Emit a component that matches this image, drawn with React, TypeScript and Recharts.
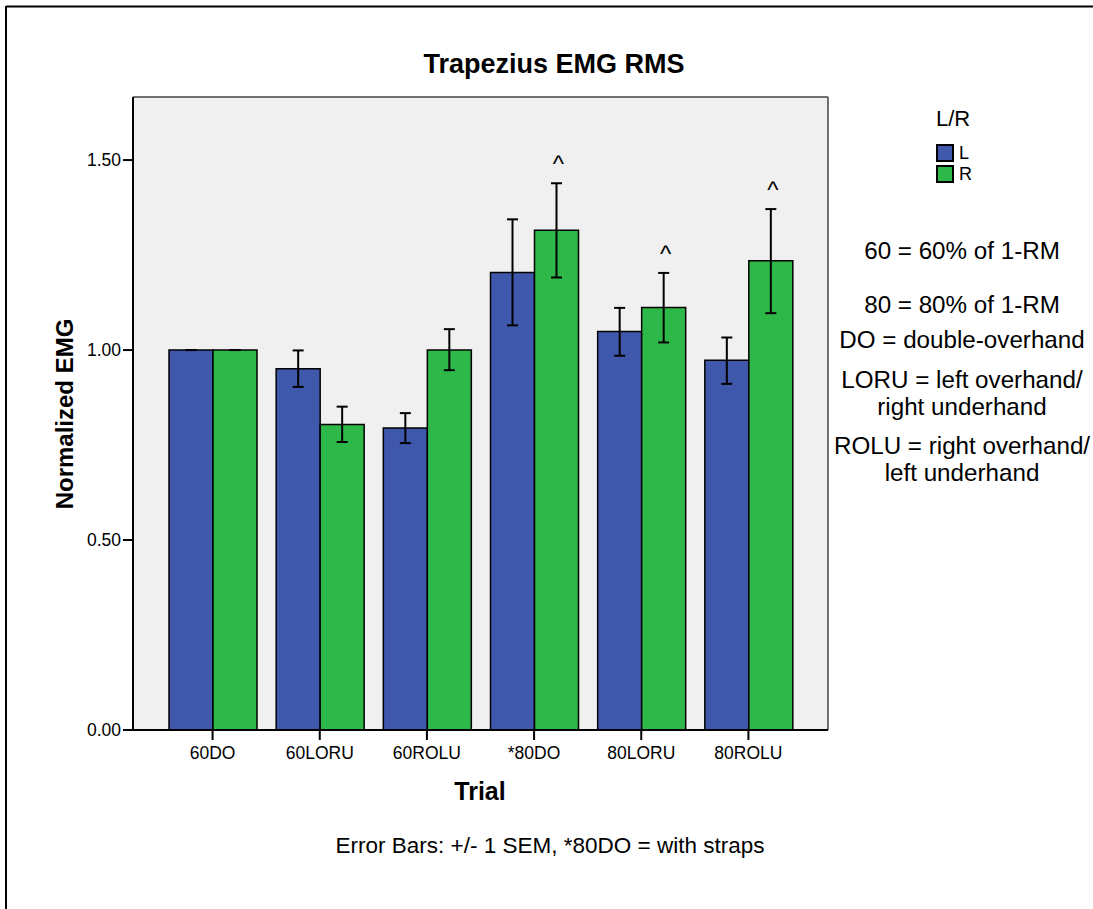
import React from 'react';
import { BarChart, Bar, XAxis, YAxis, ErrorBar, LabelList, Legend, CartesianGrid } from 'recharts';

const FONT = '"Liberation Sans", Arial, Helvetica, sans-serif';

// Trapezius EMG RMS, normalized to 60DO
const trials = ['60DO', '60LORU', '60ROLU', '*80DO', '80LORU', '80ROLU'];
const leftMean = [1.0, 0.951, 0.795, 1.204, 1.049, 0.973];
const leftLow = [1.0, 0.903, 0.755, 1.065, 0.985, 0.911];
const leftHigh = [1.0, 0.999, 0.834, 1.344, 1.111, 1.033];
const rightMean = [1.0, 0.804, 1.0, 1.315, 1.112, 1.235];
const rightLow = [1.0, 0.758, 0.947, 1.191, 1.02, 1.097];
const rightHigh = [1.0, 0.851, 1.055, 1.439, 1.203, 1.371];
const rightMarks = ['', '', '', '^', '^', '^'];
const yTicks = [0, 0.5, 1.0, 1.5];

const notes = [
  ['60 = 60% of 1-RM', 259],
  ['80 = 80% of 1-RM', 313],
  ['DO = double-overhand', 348],
  ['LORU = left overhand/', 388],
  ['right underhand', 415],
  ['ROLU = right overhand/', 454],
  ['left underhand', 481],
];

const data = trials.map((trial, i) => ({
  trial,
  L: leftMean[i],
  R: rightMean[i],
  lErr: [leftMean[i] - leftLow[i], leftHigh[i] - leftMean[i]],
  rErr: [rightMean[i] - rightLow[i], rightHigh[i] - rightMean[i]],
  mark: rightMarks[i],
}));

const BLUE = '#3F58AB';
const GREEN = '#2EB84A';

const renderCaret = (props: any) => {
  const { index, value } = props;
  if (!value) return null;
  const vb = props.viewBox || props;
  const x = Number(props.x ?? vb.x);
  const y = Number(props.y ?? vb.y);
  const w = Number(props.width ?? vb.width);
  const h = Number(props.height ?? vb.height);
  const perUnit = h / rightMean[index];
  const top = y - (rightHigh[index] - rightMean[index]) * perUnit;
  return (
    <text x={x + w / 2 + 2} y={top - 11} textAnchor="middle" fontSize={24} fontFamily={FONT} fill="#000">
      {value}
    </text>
  );
};

const renderLegend = (props: any) => {
  const { payload = [] } = props;
  return (
    <div style={{ width: 60, fontFamily: FONT, color: '#000' }}>
      <div style={{ fontSize: 22, lineHeight: '22px', marginLeft: 6, marginBottom: 12 }}>L/R</div>
      {payload.map((p: any) => (
        <div key={p.value} style={{ display: 'flex', alignItems: 'center', height: 21 }}>
          <span
            style={{
              display: 'inline-block',
              width: 14,
              height: 14,
              background: p.color,
              border: '2px solid #000',
              marginLeft: 6,
            }}
          />
          <span style={{ fontSize: 18, marginLeft: 5, lineHeight: '18px' }}>{p.value}</span>
        </div>
      ))}
    </div>
  );
};

export default function App() {
  return (
    <div
      style={{
        position: 'absolute',
        left: 0,
        top: 0,
        width: 1093,
        height: 909,
        overflow: 'hidden',
        background: '#fff',
        fontFamily: FONT,
      }}
    >
      <BarChart
        width={1093}
        height={909}
        data={data}
        margin={{ top: 97, right: 265, bottom: 139, left: 73 }}
        barGap={0}
        barSize={44}
      >
        <CartesianGrid
          fill="#F0F0F0"
          stroke="#444"
          strokeWidth={1.5}
          horizontalCoordinatesGenerator={({ offset }: any) => [offset.top]}
          verticalCoordinatesGenerator={({ offset }: any) => [offset.left + offset.width]}
        />
        <XAxis
          dataKey="trial"
          padding={{ left: 26, right: 26 }}
          height={40}
          axisLine={{ stroke: '#000', strokeWidth: 2 }}
          tickLine={{ stroke: '#000', strokeWidth: 2 }}
          tickSize={10}
          tickMargin={7}
          tick={{ fill: '#000', fontSize: 17.5, fontFamily: FONT }}
          interval={0}
        />
        <YAxis
          domain={[0, 1.666]}
          ticks={yTicks}
          width={60}
          allowDataOverflow
          tickFormatter={(v: number) => v.toFixed(2)}
          axisLine={{ stroke: '#000', strokeWidth: 2 }}
          tickLine={{ stroke: '#000', strokeWidth: 2 }}
          tickSize={10}
          tick={{ fill: '#000', fontSize: 17.5, fontFamily: FONT }}
        />
        <Legend layout="vertical" align="center" verticalAlign="middle" wrapperStyle={{ left: 930, top: 108, width: 60 }} content={renderLegend} />
        <Bar dataKey="L" name="L" fill={BLUE} stroke="#000" strokeWidth={1.5} isAnimationActive={false}>
          <ErrorBar dataKey="lErr" width={5.5} strokeWidth={2} stroke="#000" />
        </Bar>
        <Bar dataKey="R" name="R" fill={GREEN} stroke="#000" strokeWidth={1.5} isAnimationActive={false}>
          <ErrorBar dataKey="rErr" width={5.5} strokeWidth={2} stroke="#000" />
          <LabelList dataKey="mark" content={renderCaret} />
        </Bar>
      </BarChart>
      <svg width={1093} height={909} style={{ position: 'absolute', left: 0, top: 0, pointerEvents: 'none' }}>
        <line x1={6} y1={6.5} x2={1093} y2={6.5} stroke="#000" strokeWidth={2} />
        <line x1={6} y1={6} x2={6} y2={909} stroke="#000" strokeWidth={2} />
        <text x={554} y={73} textAnchor="middle" fontSize={27} fontWeight="bold" fontFamily={FONT}>
          Trapezius EMG RMS
        </text>
        <text transform="translate(73,414) rotate(-90)" textAnchor="middle" fontSize={24} fontWeight="bold" fontFamily={FONT}>
          Normalized EMG
        </text>
        <text x={480} y={800} textAnchor="middle" fontSize={25} fontWeight="bold" fontFamily={FONT}>
          Trial
        </text>
        <text x={550} y={853} textAnchor="middle" fontSize={22.5} fontFamily={FONT}>
          Error Bars: +/- 1 SEM, *80DO = with straps
        </text>
        {notes.map(([t, y]) => (
          <text key={t as string} x={962} y={y as number} textAnchor="middle" fontSize={24.2} fontFamily={FONT}>
            {t}
          </text>
        ))}
      </svg>
    </div>
  );
}
